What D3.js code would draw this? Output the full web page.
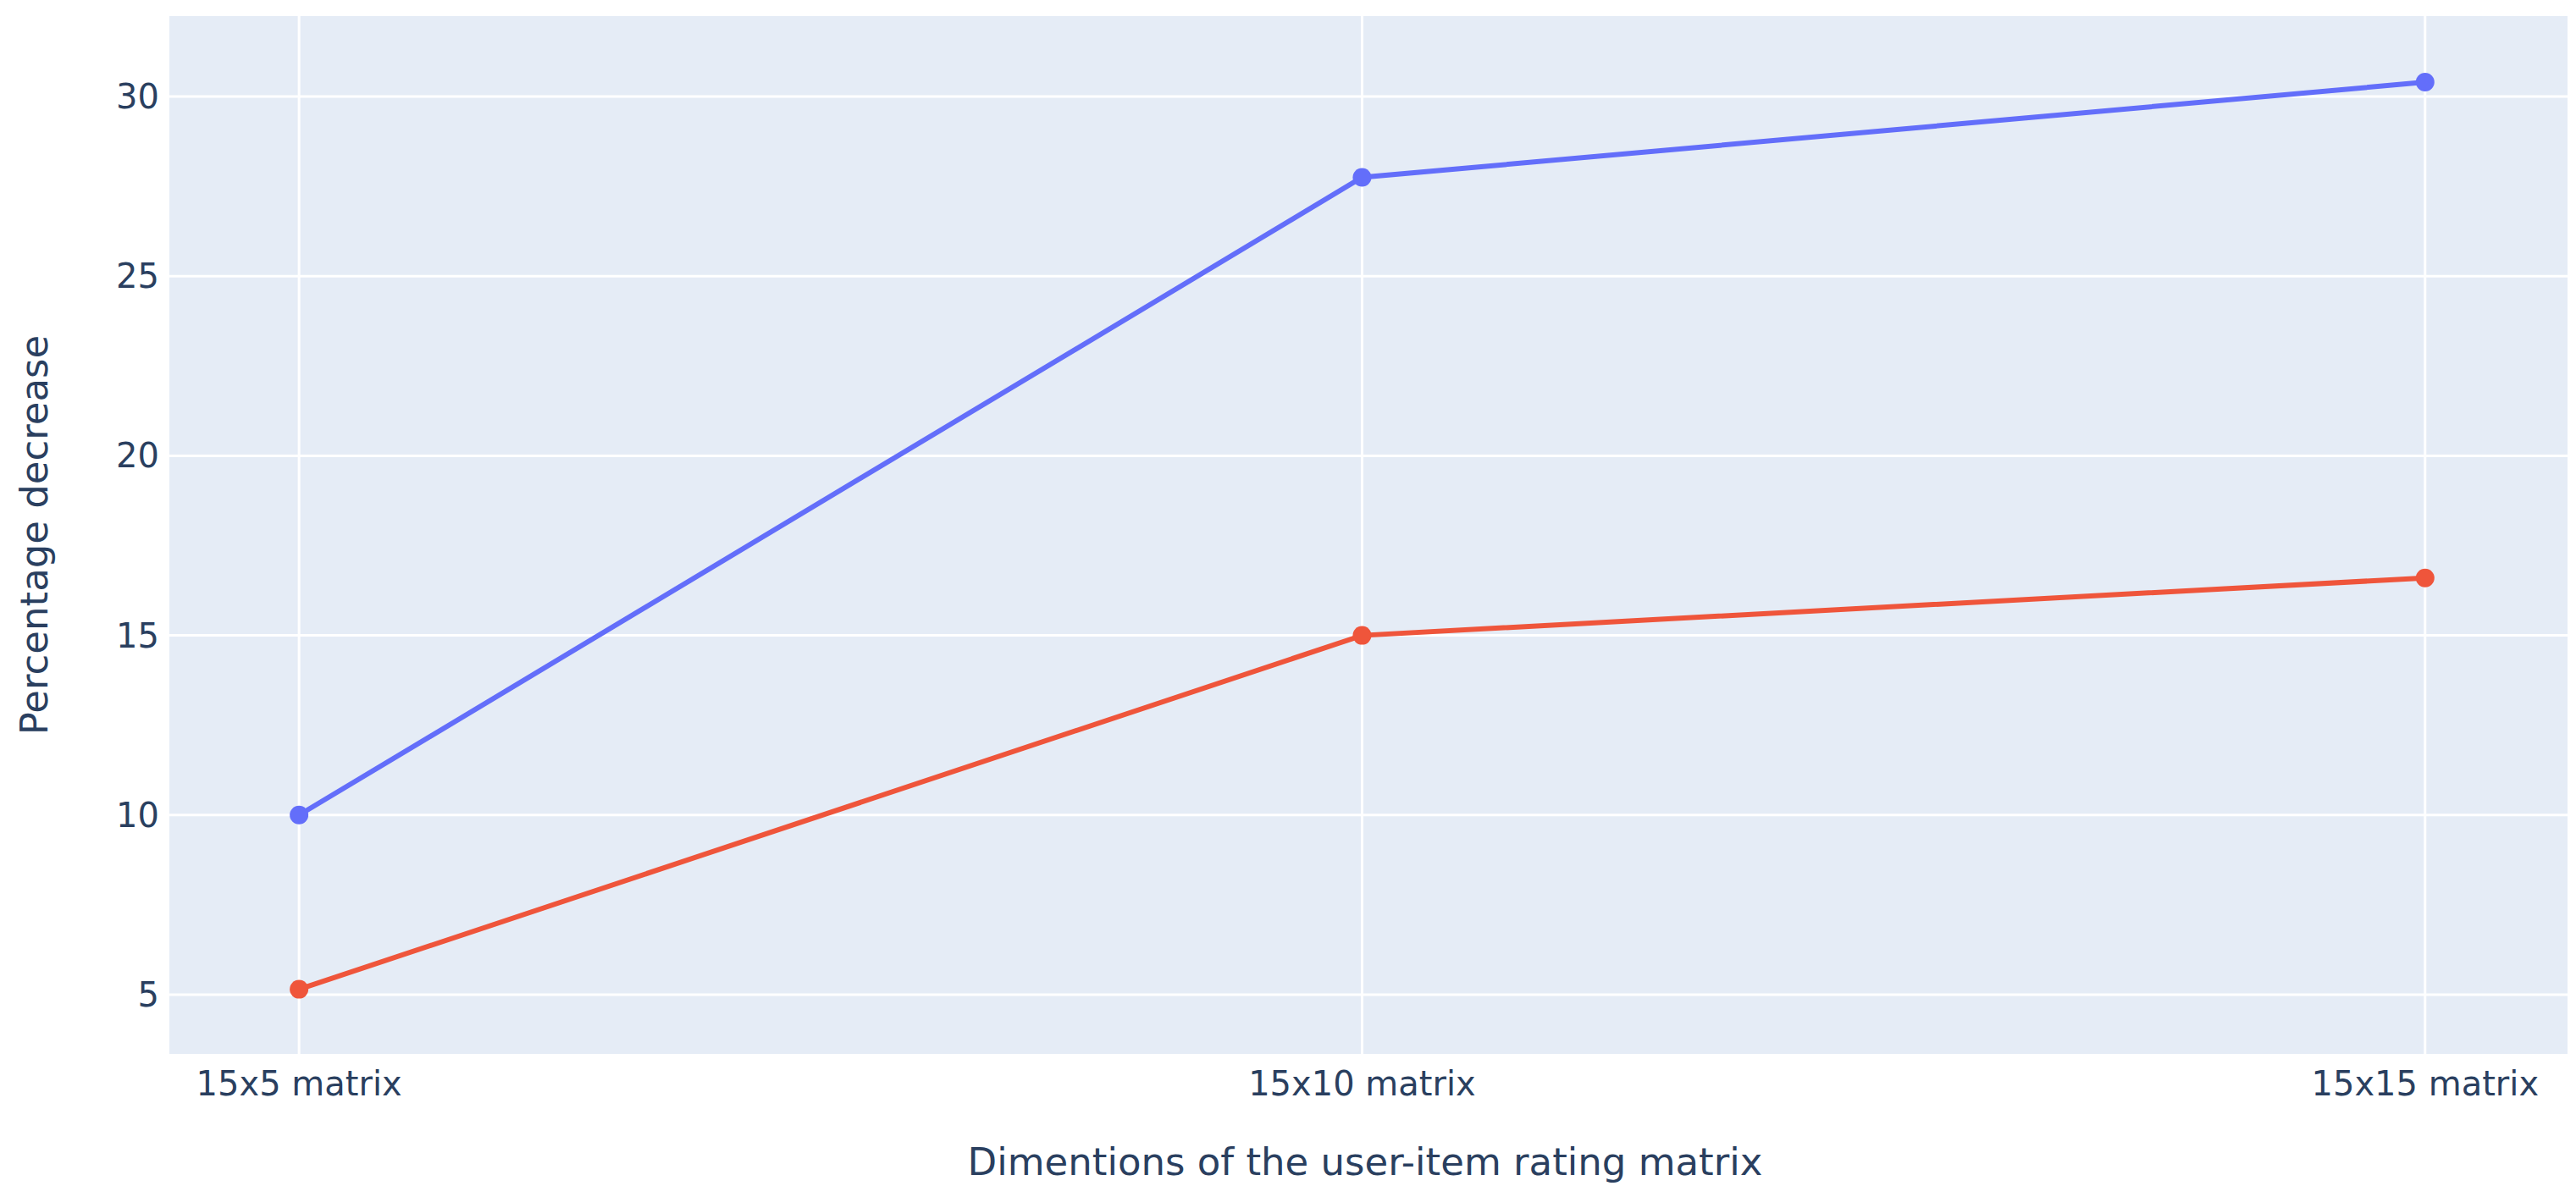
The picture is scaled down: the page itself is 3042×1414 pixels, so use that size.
<!DOCTYPE html>
<html>
<head>
<meta charset="utf-8">
<script src="https://cdn.jsdelivr.net/npm/d3@7"></script>
<style>
  body { margin: 0; background: #fff; }
  text { font-family: "DejaVu Sans", "Noto Sans", sans-serif; fill: #2a3f5f; }
</style>
</head>
<body>
<svg id="chart" width="3042" height="1414"></svg>
<script>
const categories = ["15x5 matrix", "15x10 matrix", "15x15 matrix"];
const blueValues = [10.0, 27.75, 30.4];
const redValues = [5.15, 15.0, 16.6];
const yTicks = [5, 10, 15, 20, 25, 30];

const margin = { left: 200, right: 10, top: 19, bottom: 169 };
const width = 3042, height = 1414;
const svg = d3.select("#chart");

const x = d3.scaleLinear()
    .domain([-0.122, 2.134])
    .range([margin.left, width - margin.right]);
const y = d3.scaleLinear()
    .domain([3.35, 32.24])
    .range([height - margin.bottom, margin.top]);

// plot background
svg.append("rect")
    .attr("x", margin.left).attr("y", margin.top)
    .attr("width", width - margin.left - margin.right)
    .attr("height", height - margin.top - margin.bottom)
    .attr("fill", "#E5ECF6");

// gridlines
svg.selectAll(".ygrid").data(yTicks).enter().append("line")
    .attr("x1", margin.left).attr("x2", width - margin.right)
    .attr("y1", d => y(d)).attr("y2", d => y(d))
    .attr("stroke", "#fff").attr("stroke-width", 3);
svg.selectAll(".xgrid").data(categories).enter().append("line")
    .attr("y1", margin.top).attr("y2", height - margin.bottom)
    .attr("x1", (d, i) => x(i)).attr("x2", (d, i) => x(i))
    .attr("stroke", "#fff").attr("stroke-width", 3);

// tick labels
svg.selectAll(".ylab").data(yTicks).enter().append("text")
    .attr("x", margin.left - 12).attr("y", d => y(d))
    .attr("text-anchor", "end").attr("dominant-baseline", "central")
    .attr("font-size", 40).text(d => d);
svg.selectAll(".xlab").data(categories).enter().append("text")
    .attr("x", (d, i) => x(i)).attr("y", 1280)
    .attr("text-anchor", "middle").attr("dominant-baseline", "central")
    .attr("font-size", 40).text(d => d);

// axis titles
svg.append("text")
    .attr("x", 1612).attr("y", 1372)
    .attr("text-anchor", "middle").attr("dominant-baseline", "central")
    .attr("font-size", 45).text("Dimentions of the user-item rating matrix");
svg.append("text")
    .attr("transform", "translate(40,632) rotate(-90)")
    .attr("text-anchor", "middle").attr("dominant-baseline", "central")
    .attr("font-size", 45).text("Percentage decrease");

// series
const line = d3.line().x((d, i) => x(i)).y(d => y(d));
const series = [
    { values: redValues, color: "#EF553B" },
    { values: blueValues, color: "#636EFA" }
];
series.forEach(s => {
    svg.append("path").datum(s.values)
        .attr("d", line).attr("fill", "none")
        .attr("stroke", s.color).attr("stroke-width", 6);
    svg.selectAll(null).data(s.values).enter().append("circle")
        .attr("cx", (d, i) => x(i)).attr("cy", d => y(d))
        .attr("r", 11).attr("fill", s.color);
});
</script>
</body>
</html>
